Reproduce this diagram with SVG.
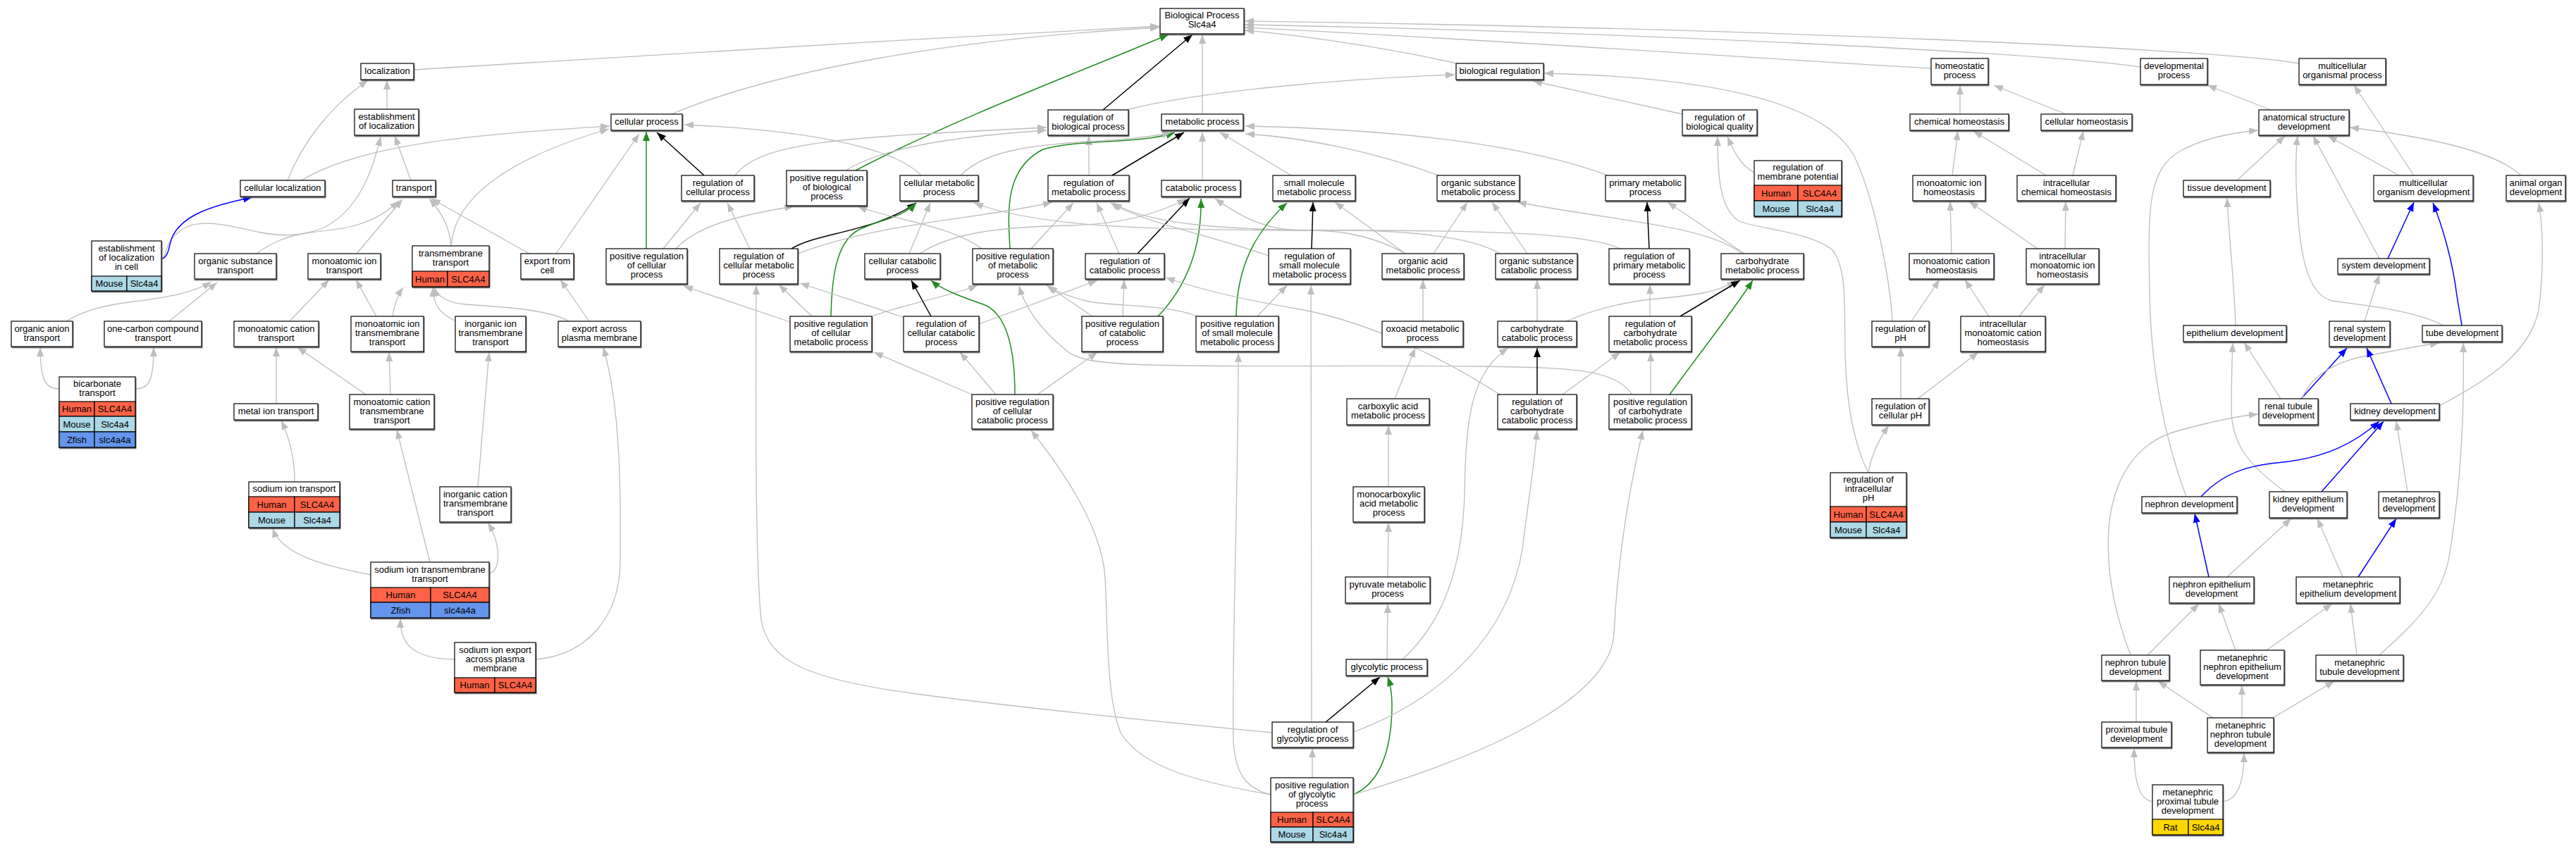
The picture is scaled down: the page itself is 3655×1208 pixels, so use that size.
<svg xmlns="http://www.w3.org/2000/svg" width="3655" height="1208" viewBox="0 0 3655 1208">
<defs>
<filter id="sh" x="-5%" y="-5%" width="115%" height="125%"><feDropShadow dx="0.8" dy="1.5" stdDeviation="0" flood-color="#555"/></filter>
<marker id="ag" markerUnits="userSpaceOnUse" markerWidth="14" markerHeight="11" refX="13" refY="5" orient="auto"><path d="M0,0 L13,5 L0,10 z" fill="#bebebe"/></marker>
<marker id="ak" markerUnits="userSpaceOnUse" markerWidth="14" markerHeight="11" refX="13" refY="5" orient="auto"><path d="M0,0 L13,5 L0,10 z" fill="#000"/></marker>
<marker id="agr" markerUnits="userSpaceOnUse" markerWidth="14" markerHeight="11" refX="13" refY="5" orient="auto"><path d="M0,0 L13,5 L0,10 z" fill="#228b22"/></marker>
<marker id="ab" markerUnits="userSpaceOnUse" markerWidth="14" markerHeight="11" refX="13" refY="5" orient="auto"><path d="M0,0 L13,5 L0,10 z" fill="#0000ff"/></marker>
</defs>
<style>
.node rect{fill:#fff;stroke:#000;stroke-width:1.2}
.node rect.o{filter:url(#sh)}
.node rect.hu{fill:#ff6347}
.node rect.mo{fill:#add8e6}
.node rect.zf{fill:#6495ed}
.node rect.ra{fill:#ffd700}
text{font-family:"Liberation Sans",Arial,sans-serif;font-size:13px;text-anchor:middle;fill:#000}
.edges path{fill:none;stroke:#bebebe;stroke-width:1.3;marker-end:url(#ag)}
.edges path.k{stroke:#000;stroke-width:1.5;marker-end:url(#ak)}
.edges path.g{stroke:#228b22;stroke-width:1.5;marker-end:url(#agr)}
.edges path.b{stroke:#0000ff;stroke-width:1.5;marker-end:url(#ab)}
</style>
<rect width="3655" height="1208" fill="#fff"/>
<g id="edges" class="edges">
<path d="M587,99 C800,85 1300,55 1645,37"/>
<path d="M953,162 C1100,100 1350,55 1645,39"/>
<path d="M1706,162 L1706,49"/>
<path d="M2066,90 C1980,70 1850,50 1766,43"/>
<path d="M2740,97 C2600,90 2100,55 1766,39"/>
<path d="M3037,95 C2900,75 2300,45 1766,35"/>
<path d="M3262,90 C3150,70 2500,40 1766,30"/>
<path class="k" d="M1565,156 L1692,49"/>
<path class="g" d="M1214,242 C1350,170 1550,95 1658,49"/>
<path d="M408,256 C430,200 470,150 522,114"/>
<path d="M549,155 L549,114"/>
<path d="M428,256 C520,200 700,190 865,179"/>
<path d="M583,256 L560,193"/>
<path d="M232,367 C238,345 245,330 270,320 C300,312 330,322 370,330 C400,336 425,335 455,325 C500,305 525,260 540,194"/>
<path d="M364,360 C385,345 405,335 440,330 C490,325 530,320 566,285"/>
<path class="b" d="M230,367 C240,365 240,345 245,335 C260,305 300,292 358,280"/>
<path d="M506,360 L571,283"/>
<path d="M640,349 C638,320 625,300 609,282"/>
<path d="M640,349 C645,280 720,225 864,183"/>
<path d="M751,360 L612,282"/>
<path d="M789,360 L907,190"/>
<path class="g" d="M917,353 L917,187"/>
<path class="k" d="M999,249 L932,188"/>
<path d="M1307,249 C1270,210 1150,185 971,177"/>
<path d="M1043,249 C1080,200 1200,195 1485,181"/>
<path d="M1200,242 C1260,205 1380,192 1485,185"/>
<path d="M1545,249 L1545,193"/>
<path d="M1598,156 C1700,130 1900,112 2064,106"/>
<path class="k" d="M1578,249 L1680,188"/>
<path class="g" d="M1433,353 C1430,300 1425,240 1480,212 C1530,197 1620,205 1667,188"/>
<path d="M1363,249 C1400,210 1480,205 1560,200 C1610,197 1640,193 1662,188"/>
<path d="M1706,256 L1706,188"/>
<path d="M1832,249 L1731,188"/>
<path d="M2041,249 C1950,215 1850,195 1767,190"/>
<path d="M2281,249 C2150,200 1950,183 1767,179"/>
<path class="k" d="M1614,360 L1688,281"/>
<path class="g" d="M1643,449 C1690,400 1705,340 1704,282"/>
<path d="M1305,360 C1350,330 1420,322 1520,320 C1600,318 1650,300 1683,282"/>
<path d="M2128,360 C2080,330 1950,325 1850,327 C1790,328 1750,300 1724,282"/>
<path class="k" d="M1123,353 C1160,330 1240,330 1300,288"/>
<path class="g" d="M1179,449 C1180,400 1185,345 1217,327 C1245,312 1280,310 1300,288"/>
<path d="M1290,360 L1320,288"/>
<path d="M1994,360 C1930,325 1880,327 1820,327 C1650,325 1480,325 1382,288"/>
<path d="M941,353 L994,288"/>
<path d="M1064,353 L1032,288"/>
<path d="M959,353 C990,320 1050,305 1126,293"/>
<path d="M1393,353 C1350,320 1260,310 1217,293"/>
<path d="M1132,360 C1250,315 1400,310 1493,287"/>
<path d="M1463,353 L1523,288"/>
<path d="M1588,360 L1556,288"/>
<path d="M1800,363 C1720,335 1620,315 1576,288"/>
<path d="M2299,353 C2250,330 2100,327 1900,327 C1750,327 1630,320 1579,288"/>
<path class="k" d="M1861,353 L1863,287"/>
<path class="g" d="M1754,449 C1755,380 1780,330 1826,288"/>
<path d="M1994,360 L1894,287"/>
<path d="M2034,360 L2082,287"/>
<path d="M2167,360 L2117,287"/>
<path d="M2472,360 C2420,320 2300,315 2153,287"/>
<path d="M2475,360 L2366,287"/>
<path class="k" d="M2340,353 L2337,287"/>
<path d="M1593,449 L1595,397"/>
<path d="M1389,460 L1557,398"/>
<path d="M2128,560 C2050,510 1950,460 1850,440 C1760,425 1700,410 1654,394"/>
<path d="M1237,449 C1290,430 1350,420 1387,405"/>
<path d="M1550,449 L1485,405"/>
<path d="M1698,449 C1660,432 1580,435 1545,428 C1520,422 1500,415 1487,406"/>
<path d="M2316,560 C2290,525 2240,522 2100,520 C1900,518 1700,522 1604,517 C1550,514 1525,510 1510,495 C1480,470 1455,440 1446,406"/>
<path d="M1121,457 L970,406"/>
<path d="M1152,449 L1105,404"/>
<path d="M1281,450 L1135,402"/>
<path d="M1805,1040 C1650,1025 1450,1005 1300,985 C1150,965 1090,940 1080,880 C1072,800 1072,600 1073,405"/>
<path class="k" d="M1321,449 L1293,398"/>
<path class="g" d="M1440,560 C1440,500 1430,445 1395,432 C1360,420 1335,410 1321,398"/>
<path d="M1803,1128 C1700,1110 1620,1090 1590,1040 C1570,990 1572,900 1568,820 C1564,750 1510,670 1463,611"/>
<path d="M1803,1128 C1770,1120 1752,1100 1750,1050 C1748,900 1757,700 1757,501"/>
<path d="M1379,560 L1240,500"/>
<path d="M1413,560 L1362,500"/>
<path d="M1472,560 L1557,500"/>
<path d="M1784,449 L1826,405"/>
<path d="M1861,1025 L1860,405"/>
<path d="M2019,456 L2019,397"/>
<path d="M1979,566 L2008,494"/>
<path d="M1970,691 L1970,604"/>
<path d="M1969,819 L1970,742"/>
<path d="M1968,936 L1969,857"/>
<path class="k" d="M1881,1025 L1958,961"/>
<path class="g" d="M1922,1127 C1960,1110 1975,1060 1975,1000 C1975,980 1972,970 1969,961"/>
<path d="M1862,1104 L1862,1062"/>
<path d="M1990,936 C2040,890 2075,820 2078,700 C2080,600 2085,530 2140,494"/>
<path d="M1921,1039 C2050,990 2140,900 2160,780 C2170,700 2178,650 2181,611"/>
<path d="M1920,1128 C2150,1060 2285,980 2290,900 C2295,800 2310,700 2331,611"/>
<path d="M2181,456 L2181,397"/>
<path d="M2222,456 C2260,440 2300,430 2340,425 C2400,420 2440,415 2463,398"/>
<path class="k" d="M2181,560 L2181,494"/>
<path d="M2217,560 L2299,500"/>
<path d="M2342,560 L2342,500"/>
<path class="g" d="M2369,560 C2420,490 2460,440 2487,398"/>
<path class="k" d="M2384,449 L2469,398"/>
<path d="M2341,449 L2341,404"/>
<path d="M2387,162 L2175,115"/>
<path d="M2685,456 C2682,400 2660,280 2630,220 C2590,150 2450,110 2191,104"/>
<path d="M2651,671 C2640,650 2620,600 2618,500 C2617,430 2620,380 2600,355 C2570,330 2500,325 2470,315 C2440,300 2437,250 2437,194"/>
<path d="M2489,245 C2470,235 2460,215 2451,194"/>
<path d="M2781,162 L2781,121"/>
<path d="M2931,162 L2829,121"/>
<path d="M2770,249 L2778,186"/>
<path d="M2903,249 L2800,186"/>
<path d="M2941,249 L2956,186"/>
<path d="M2769,360 L2767,286"/>
<path d="M2891,353 L2794,286"/>
<path d="M2930,353 L2931,286"/>
<path d="M2712,456 L2752,397"/>
<path d="M2822,449 L2788,397"/>
<path d="M2865,449 L2901,404"/>
<path d="M2697,566 L2697,493"/>
<path d="M2721,566 L2807,500"/>
<path d="M2651,671 C2655,645 2665,625 2680,604"/>
<path d="M3222,156 L3132,121"/>
<path d="M3425,249 L3340,121"/>
<path d="M3404,249 L3303,193"/>
<path d="M3174,256 L3242,193"/>
<path d="M3577,249 C3540,215 3450,195 3334,181"/>
<path d="M3102,705 C3070,620 3052,520 3050,420 C3048,300 3045,240 3096,213 C3130,195 3170,188 3204,185"/>
<path d="M3376,367 L3282,193"/>
<path d="M3467,462 C3420,438 3340,432 3309,427 C3280,420 3265,380 3260,300 C3256,240 3258,210 3260,193"/>
<path class="b" d="M3388,367 L3425,287"/>
<path class="b" d="M3493,462 L3486,420 C3480,370 3465,320 3452,288"/>
<path d="M3172,462 C3170,400 3162,330 3160,281"/>
<path d="M3461,576 C3530,540 3590,500 3602,440 C3610,380 3608,320 3602,288"/>
<path d="M3355,456 L3376,390"/>
<path d="M3236,566 L3184,486"/>
<path d="M3242,698 C3190,660 3166,630 3166,580 C3166,540 3167,510 3168,487"/>
<path class="b" d="M3265,566 L3330,494"/>
<path d="M3266,566 C3280,530 3320,510 3370,503 C3410,495 3440,490 3461,487"/>
<path class="b" d="M3393,573 L3358,494"/>
<path d="M3023,930 C3000,870 2988,810 2992,750 C2998,680 3030,625 3096,610 C3140,598 3180,590 3204,588"/>
<path class="b" d="M3123,705 C3160,665 3200,660 3248,655 C3300,648 3340,630 3376,598"/>
<path class="b" d="M3294,698 L3382,598"/>
<path d="M3416,698 L3400,598"/>
<path class="b" d="M3134,819 L3114,729"/>
<path d="M3160,819 L3251,736"/>
<path d="M3324,819 L3288,736"/>
<path class="b" d="M3346,819 L3400,736"/>
<path d="M3376,930 C3420,890 3465,850 3475,790 C3490,700 3497,600 3495,487"/>
<path d="M3047,930 L3120,857"/>
<path d="M3172,923 L3148,857"/>
<path d="M3216,923 L3309,857"/>
<path d="M3344,930 L3335,857"/>
<path d="M3031,1025 L3031,967"/>
<path d="M3140,1019 L3062,967"/>
<path d="M3181,1019 L3181,973"/>
<path d="M3225,1019 L3312,967"/>
<path d="M3054,1138 C3035,1135 3028,1110 3028,1062"/>
<path d="M3154,1138 C3175,1135 3184,1110 3184,1069"/>
<path d="M94,456 C120,440 150,433 190,428 C240,422 275,415 300,400"/>
<path d="M240,456 L308,401"/>
<path d="M84,552 C65,552 57,540 57,493"/>
<path d="M192,552 C212,552 218,540 218,493"/>
<path d="M411,456 L467,397"/>
<path d="M534,449 L505,397"/>
<path d="M557,449 C560,430 565,418 572,408"/>
<path d="M645,455 C625,445 615,435 614,408"/>
<path d="M807,456 C780,440 720,436 660,432 C635,430 620,420 616,408"/>
<path d="M836,456 L795,397"/>
<path d="M392,573 L392,493"/>
<path d="M519,560 L422,493"/>
<path d="M554,560 L552,500"/>
<path d="M418,684 C418,650 410,620 399,597"/>
<path d="M678,691 L694,500"/>
<path d="M526,816 C470,805 400,790 387,750"/>
<path d="M610,798 L563,610"/>
<path d="M694,814 C712,810 710,770 692,742"/>
<path d="M760,936 C830,930 878,880 880,800 C882,650 875,560 856,493"/>
<path d="M645,936 C580,935 568,910 568,878"/>
</g>
<g id="n_bp" class="node"><rect class="o" x="1646" y="12" width="119" height="36"/><text x="1705.5" y="26">Biological Process</text><text x="1705.5" y="39">Slc4a4</text></g>
<g id="n_localization" class="node"><rect class="o" x="512" y="90" width="75" height="23"/><text x="549.5" y="104.5">localization</text></g>
<g id="n_biological_regulation" class="node"><rect class="o" x="2066" y="90" width="124" height="23"/><text x="2128" y="104.5">biological regulation</text></g>
<g id="n_homeostatic_process" class="node"><rect class="o" x="2740" y="83" width="81" height="37"/><text x="2780.5" y="98">homeostatic</text><text x="2780.5" y="111">process</text></g>
<g id="n_developmental_process" class="node"><rect class="o" x="3037" y="83" width="95" height="37"/><text x="3084.5" y="98">developmental</text><text x="3084.5" y="111">process</text></g>
<g id="n_multicellular_organismal_process" class="node"><rect class="o" x="3262" y="83" width="123" height="37"/><text x="3323.5" y="98">multicellular</text><text x="3323.5" y="111">organismal process</text></g>
<g id="n_establishment_of_localization" class="node"><rect class="o" x="503" y="155" width="91" height="37"/><text x="548.5" y="170">establishment</text><text x="548.5" y="183">of localization</text></g>
<g id="n_cellular_process" class="node"><rect class="o" x="867" y="162" width="101" height="23"/><text x="917.5" y="176.5">cellular process</text></g>
<g id="n_regulation_of_biological_process" class="node"><rect class="o" x="1487" y="156" width="114" height="36"/><text x="1544" y="170.5">regulation of</text><text x="1544" y="183.5">biological process</text></g>
<g id="n_metabolic_process" class="node"><rect class="o" x="1648" y="162" width="116" height="23"/><text x="1706" y="176.5">metabolic process</text></g>
<g id="n_regulation_of_biological_quality" class="node"><rect class="o" x="2387" y="156" width="106" height="36"/><text x="2440" y="170.5">regulation of</text><text x="2440" y="183.5">biological quality</text></g>
<g id="n_chemical_homeostasis" class="node"><rect class="o" x="2710" y="162" width="140" height="23"/><text x="2780" y="176.5">chemical homeostasis</text></g>
<g id="n_cellular_homeostasis" class="node"><rect class="o" x="2896" y="162" width="129" height="23"/><text x="2960.5" y="176.5">cellular homeostasis</text></g>
<g id="n_anatomical_structure_development" class="node"><rect class="o" x="3205" y="156" width="128" height="36"/><text x="3269" y="170.5">anatomical structure</text><text x="3269" y="183.5">development</text></g>
<g id="n_regulation_of_membrane_potential" class="node"><rect class="o" x="2489" y="228" width="124" height="79"/><text x="2551" y="242">regulation of</text><text x="2551" y="255">membrane potential</text><rect class="hu" x="2489" y="263" width="62" height="22"/><rect class="hu" x="2551" y="263" width="62" height="22"/><rect class="mo" x="2489" y="285" width="62" height="22"/><rect class="mo" x="2551" y="285" width="62" height="22"/><text x="2520" y="278.5">Human</text><text x="2582" y="278.5">SLC4A4</text><text x="2520" y="300.5">Mouse</text><text x="2582" y="300.5">Slc4a4</text></g>
<g id="n_cellular_localization" class="node"><rect class="o" x="341" y="256" width="120" height="23"/><text x="401" y="270.5">cellular localization</text></g>
<g id="n_transport" class="node"><rect class="o" x="557" y="256" width="61" height="23"/><text x="587.5" y="270.5">transport</text></g>
<g id="n_regulation_of_cellular_process" class="node"><rect class="o" x="967" y="249" width="103" height="36"/><text x="1018.5" y="263.5">regulation of</text><text x="1018.5" y="276.5">cellular process</text></g>
<g id="n_positive_regulation_of_biological_process" class="node"><rect class="o" x="1116" y="242" width="114" height="50"/><text x="1173" y="257">positive regulation</text><text x="1173" y="270">of biological</text><text x="1173" y="283">process</text></g>
<g id="n_cellular_metabolic_process" class="node"><rect class="o" x="1277" y="249" width="111" height="36"/><text x="1332.5" y="263.5">cellular metabolic</text><text x="1332.5" y="276.5">process</text></g>
<g id="n_regulation_of_metabolic_process" class="node"><rect class="o" x="1487" y="249" width="115" height="36"/><text x="1544.5" y="263.5">regulation of</text><text x="1544.5" y="276.5">metabolic process</text></g>
<g id="n_catabolic_process" class="node"><rect class="o" x="1648" y="256" width="112" height="23"/><text x="1704" y="270.5">catabolic process</text></g>
<g id="n_small_molecule_metabolic_process" class="node"><rect class="o" x="1806" y="249" width="117" height="36"/><text x="1864.5" y="263.5">small molecule</text><text x="1864.5" y="276.5">metabolic process</text></g>
<g id="n_organic_substance_metabolic_process" class="node"><rect class="o" x="2039" y="249" width="117" height="36"/><text x="2097.5" y="263.5">organic substance</text><text x="2097.5" y="276.5">metabolic process</text></g>
<g id="n_primary_metabolic_process" class="node"><rect class="o" x="2278" y="249" width="113" height="36"/><text x="2334.5" y="263.5">primary metabolic</text><text x="2334.5" y="276.5">process</text></g>
<g id="n_monoatomic_ion_homeostasis" class="node"><rect class="o" x="2714" y="249" width="103" height="36"/><text x="2765.5" y="263.5">monoatomic ion</text><text x="2765.5" y="276.5">homeostasis</text></g>
<g id="n_intracellular_chemical_homeostasis" class="node"><rect class="o" x="2862" y="249" width="140" height="36"/><text x="2932" y="263.5">intracellular</text><text x="2932" y="276.5">chemical homeostasis</text></g>
<g id="n_tissue_development" class="node"><rect class="o" x="3098" y="256" width="123" height="23"/><text x="3159.5" y="270.5">tissue development</text></g>
<g id="n_multicellular_organism_development" class="node"><rect class="o" x="3368" y="249" width="141" height="36"/><text x="3438.5" y="263.5">multicellular</text><text x="3438.5" y="276.5">organism development</text></g>
<g id="n_animal_organ_development" class="node"><rect class="o" x="3556" y="249" width="84" height="36"/><text x="3598" y="263.5">animal organ</text><text x="3598" y="276.5">development</text></g>
<g id="n_establishment_of_localization_in_cell" class="node"><rect class="o" x="130" y="342" width="99" height="71"/><text x="179.5" y="357">establishment</text><text x="179.5" y="370">of localization</text><text x="179.5" y="383">in cell</text><rect class="mo" x="130" y="392" width="50" height="21"/><rect class="mo" x="180" y="392" width="49" height="21"/><text x="155" y="407">Mouse</text><text x="204.5" y="407">Slc4a4</text></g>
<g id="n_organic_substance_transport" class="node"><rect class="o" x="276" y="360" width="116" height="36"/><text x="334" y="374.5">organic substance</text><text x="334" y="387.5">transport</text></g>
<g id="n_monoatomic_ion_transport" class="node"><rect class="o" x="437" y="360" width="103" height="36"/><text x="488.5" y="374.5">monoatomic ion</text><text x="488.5" y="387.5">transport</text></g>
<g id="n_transmembrane_transport" class="node"><rect class="o" x="585" y="349" width="109" height="58"/><text x="639.5" y="363.5">transmembrane</text><text x="639.5" y="376.5">transport</text><rect class="hu" x="585" y="385" width="50" height="22"/><rect class="hu" x="635" y="385" width="59" height="22"/><text x="610" y="400.5">Human</text><text x="664.5" y="400.5">SLC4A4</text></g>
<g id="n_export_from_cell" class="node"><rect class="o" x="739" y="360" width="75" height="36"/><text x="776.5" y="374.5">export from</text><text x="776.5" y="387.5">cell</text></g>
<g id="n_positive_regulation_of_cellular_process" class="node"><rect class="o" x="860" y="353" width="115" height="50"/><text x="917.5" y="368">positive regulation</text><text x="917.5" y="381">of cellular</text><text x="917.5" y="394">process</text></g>
<g id="n_regulation_of_cellular_metabolic_process" class="node"><rect class="o" x="1021" y="353" width="111" height="50"/><text x="1076.5" y="368">regulation of</text><text x="1076.5" y="381">cellular metabolic</text><text x="1076.5" y="394">process</text></g>
<g id="n_cellular_catabolic_process" class="node"><rect class="o" x="1227" y="360" width="107" height="36"/><text x="1280.5" y="374.5">cellular catabolic</text><text x="1280.5" y="387.5">process</text></g>
<g id="n_positive_regulation_of_metabolic_process" class="node"><rect class="o" x="1380" y="353" width="114" height="50"/><text x="1437" y="368">positive regulation</text><text x="1437" y="381">of metabolic</text><text x="1437" y="394">process</text></g>
<g id="n_regulation_of_catabolic_process" class="node"><rect class="o" x="1540" y="360" width="112" height="36"/><text x="1596" y="374.5">regulation of</text><text x="1596" y="387.5">catabolic process</text></g>
<g id="n_regulation_of_small_molecule_metabolic_process" class="node"><rect class="o" x="1800" y="353" width="116" height="50"/><text x="1858" y="368">regulation of</text><text x="1858" y="381">small molecule</text><text x="1858" y="394">metabolic process</text></g>
<g id="n_organic_acid_metabolic_process" class="node"><rect class="o" x="1961" y="360" width="116" height="36"/><text x="2019" y="374.5">organic acid</text><text x="2019" y="387.5">metabolic process</text></g>
<g id="n_organic_substance_catabolic_process" class="node"><rect class="o" x="2122" y="360" width="116" height="36"/><text x="2180" y="374.5">organic substance</text><text x="2180" y="387.5">catabolic process</text></g>
<g id="n_regulation_of_primary_metabolic_process" class="node"><rect class="o" x="2283" y="353" width="114" height="50"/><text x="2340" y="368">regulation of</text><text x="2340" y="381">primary metabolic</text><text x="2340" y="394">process</text></g>
<g id="n_carbohydrate_metabolic_process" class="node"><rect class="o" x="2442" y="360" width="117" height="36"/><text x="2500.5" y="374.5">carbohydrate</text><text x="2500.5" y="387.5">metabolic process</text></g>
<g id="n_monoatomic_cation_homeostasis" class="node"><rect class="o" x="2709" y="360" width="120" height="36"/><text x="2769" y="374.5">monoatomic cation</text><text x="2769" y="387.5">homeostasis</text></g>
<g id="n_intracellular_monoatomic_ion_homeostasis" class="node"><rect class="o" x="2875" y="353" width="103" height="50"/><text x="2926.5" y="368">intracellular</text><text x="2926.5" y="381">monoatomic ion</text><text x="2926.5" y="394">homeostasis</text></g>
<g id="n_system_development" class="node"><rect class="o" x="3317" y="367" width="130" height="22"/><text x="3382" y="381">system development</text></g>
<g id="n_organic_anion_transport" class="node"><rect class="o" x="16" y="456" width="87" height="36"/><text x="59.5" y="470.5">organic anion</text><text x="59.5" y="483.5">transport</text></g>
<g id="n_one_carbon_compound_transport" class="node"><rect class="o" x="148" y="456" width="138" height="36"/><text x="217" y="470.5">one-carbon compound</text><text x="217" y="483.5">transport</text></g>
<g id="n_monoatomic_cation_transport" class="node"><rect class="o" x="332" y="456" width="120" height="36"/><text x="392" y="470.5">monoatomic cation</text><text x="392" y="483.5">transport</text></g>
<g id="n_monoatomic_ion_transmembrane_transport" class="node"><rect class="o" x="498" y="449" width="103" height="50"/><text x="549.5" y="464">monoatomic ion</text><text x="549.5" y="477">transmembrane</text><text x="549.5" y="490">transport</text></g>
<g id="n_inorganic_ion_transmembrane_transport" class="node"><rect class="o" x="646" y="449" width="100" height="50"/><text x="696" y="464">inorganic ion</text><text x="696" y="477">transmembrane</text><text x="696" y="490">transport</text></g>
<g id="n_export_across_plasma_membrane" class="node"><rect class="o" x="792" y="456" width="117" height="36"/><text x="850.5" y="470.5">export across</text><text x="850.5" y="483.5">plasma membrane</text></g>
<g id="n_positive_regulation_of_cellular_metabolic_process" class="node"><rect class="o" x="1121" y="449" width="116" height="50"/><text x="1179" y="464">positive regulation</text><text x="1179" y="477">of cellular</text><text x="1179" y="490">metabolic process</text></g>
<g id="n_regulation_of_cellular_catabolic_process" class="node"><rect class="o" x="1282" y="449" width="107" height="50"/><text x="1335.5" y="464">regulation of</text><text x="1335.5" y="477">cellular catabolic</text><text x="1335.5" y="490">process</text></g>
<g id="n_positive_regulation_of_catabolic_process" class="node"><rect class="o" x="1535" y="449" width="115" height="50"/><text x="1592.5" y="464">positive regulation</text><text x="1592.5" y="477">of catabolic</text><text x="1592.5" y="490">process</text></g>
<g id="n_positive_regulation_of_small_molecule_metabolic_process" class="node"><rect class="o" x="1697" y="449" width="117" height="50"/><text x="1755.5" y="464">positive regulation</text><text x="1755.5" y="477">of small molecule</text><text x="1755.5" y="490">metabolic process</text></g>
<g id="n_oxoacid_metabolic_process" class="node"><rect class="o" x="1961" y="456" width="115" height="36"/><text x="2018.5" y="470.5">oxoacid metabolic</text><text x="2018.5" y="483.5">process</text></g>
<g id="n_carbohydrate_catabolic_process" class="node"><rect class="o" x="2125" y="456" width="112" height="36"/><text x="2181" y="470.5">carbohydrate</text><text x="2181" y="483.5">catabolic process</text></g>
<g id="n_regulation_of_carbohydrate_metabolic_process" class="node"><rect class="o" x="2283" y="449" width="117" height="50"/><text x="2341.5" y="464">regulation of</text><text x="2341.5" y="477">carbohydrate</text><text x="2341.5" y="490">metabolic process</text></g>
<g id="n_regulation_of_pH" class="node"><rect class="o" x="2656" y="456" width="81" height="36"/><text x="2696.5" y="470.5">regulation of</text><text x="2696.5" y="483.5">pH</text></g>
<g id="n_intracellular_monoatomic_cation_homeostasis" class="node"><rect class="o" x="2782" y="449" width="120" height="50"/><text x="2842" y="464">intracellular</text><text x="2842" y="477">monoatomic cation</text><text x="2842" y="490">homeostasis</text></g>
<g id="n_epithelium_development" class="node"><rect class="o" x="3098" y="462" width="146" height="23"/><text x="3171" y="476.5">epithelium development</text></g>
<g id="n_renal_system_development" class="node"><rect class="o" x="3305" y="456" width="86" height="36"/><text x="3348" y="470.5">renal system</text><text x="3348" y="483.5">development</text></g>
<g id="n_tube_development" class="node"><rect class="o" x="3437" y="462" width="113" height="23"/><text x="3493.5" y="476.5">tube development</text></g>
<g id="n_bicarbonate_transport" class="node"><rect class="o" x="84" y="535" width="108" height="100"/><text x="138" y="549">bicarbonate</text><text x="138" y="562">transport</text><rect class="hu" x="84" y="570" width="50" height="21"/><rect class="hu" x="134" y="570" width="58" height="21"/><rect class="mo" x="84" y="591" width="50" height="22"/><rect class="mo" x="134" y="591" width="58" height="22"/><rect class="zf" x="84" y="613" width="50" height="22"/><rect class="zf" x="134" y="613" width="58" height="22"/><text x="109" y="585">Human</text><text x="163" y="585">SLC4A4</text><text x="109" y="606.5">Mouse</text><text x="163" y="606.5">Slc4a4</text><text x="109" y="628.5">Zfish</text><text x="163" y="628.5">slc4a4a</text></g>
<g id="n_metal_ion_transport" class="node"><rect class="o" x="332" y="573" width="119" height="23"/><text x="391.5" y="587.5">metal ion transport</text></g>
<g id="n_monoatomic_cation_transmembrane_transport" class="node"><rect class="o" x="496" y="560" width="120" height="49"/><text x="556" y="574.5">monoatomic cation</text><text x="556" y="587.5">transmembrane</text><text x="556" y="600.5">transport</text></g>
<g id="n_positive_regulation_of_cellular_catabolic_process" class="node"><rect class="o" x="1379" y="560" width="115" height="49"/><text x="1436.5" y="574.5">positive regulation</text><text x="1436.5" y="587.5">of cellular</text><text x="1436.5" y="600.5">catabolic process</text></g>
<g id="n_carboxylic_acid_metabolic_process" class="node"><rect class="o" x="1911" y="566" width="117" height="37"/><text x="1969.5" y="581">carboxylic acid</text><text x="1969.5" y="594">metabolic process</text></g>
<g id="n_regulation_of_carbohydrate_catabolic_process" class="node"><rect class="o" x="2125" y="560" width="112" height="49"/><text x="2181" y="574.5">regulation of</text><text x="2181" y="587.5">carbohydrate</text><text x="2181" y="600.5">catabolic process</text></g>
<g id="n_positive_regulation_of_carbohydrate_metabolic_process" class="node"><rect class="o" x="2283" y="560" width="117" height="49"/><text x="2341.5" y="574.5">positive regulation</text><text x="2341.5" y="587.5">of carbohydrate</text><text x="2341.5" y="600.5">metabolic process</text></g>
<g id="n_regulation_of_cellular_pH" class="node"><rect class="o" x="2656" y="566" width="81" height="37"/><text x="2696.5" y="581">regulation of</text><text x="2696.5" y="594">cellular pH</text></g>
<g id="n_renal_tubule_development" class="node"><rect class="o" x="3205" y="566" width="84" height="37"/><text x="3247" y="581">renal tubule</text><text x="3247" y="594">development</text></g>
<g id="n_kidney_development" class="node"><rect class="o" x="3335" y="573" width="126" height="23"/><text x="3398" y="587.5">kidney development</text></g>
<g id="n_sodium_ion_transport" class="node"><rect class="o" x="353" y="684" width="129" height="65"/><text x="417.5" y="697.5">sodium ion transport</text><rect class="hu" x="353" y="705" width="65" height="22"/><rect class="hu" x="418" y="705" width="64" height="22"/><rect class="mo" x="353" y="727" width="65" height="22"/><rect class="mo" x="418" y="727" width="64" height="22"/><text x="385.5" y="720.5">Human</text><text x="450" y="720.5">SLC4A4</text><text x="385.5" y="742.5">Mouse</text><text x="450" y="742.5">Slc4a4</text></g>
<g id="n_inorganic_cation_transmembrane_transport" class="node"><rect class="o" x="624" y="691" width="101" height="50"/><text x="674.5" y="706">inorganic cation</text><text x="674.5" y="719">transmembrane</text><text x="674.5" y="732">transport</text></g>
<g id="n_monocarboxylic_acid_metabolic_process" class="node"><rect class="o" x="1920" y="691" width="101" height="50"/><text x="1970.5" y="706">monocarboxylic</text><text x="1970.5" y="719">acid metabolic</text><text x="1970.5" y="732">process</text></g>
<g id="n_regulation_of_intracellular_pH" class="node"><rect class="o" x="2597" y="671" width="108" height="92"/><text x="2651" y="685">regulation of</text><text x="2651" y="698">intracellular</text><text x="2651" y="711">pH</text><rect class="hu" x="2597" y="719" width="51" height="22"/><rect class="hu" x="2648" y="719" width="57" height="22"/><rect class="mo" x="2597" y="741" width="51" height="22"/><rect class="mo" x="2648" y="741" width="57" height="22"/><text x="2622.5" y="734.5">Human</text><text x="2676.5" y="734.5">SLC4A4</text><text x="2622.5" y="756.5">Mouse</text><text x="2676.5" y="756.5">Slc4a4</text></g>
<g id="n_nephron_development" class="node"><rect class="o" x="3039" y="705" width="135" height="23"/><text x="3106.5" y="719.5">nephron development</text></g>
<g id="n_kidney_epithelium_development" class="node"><rect class="o" x="3220" y="698" width="110" height="37"/><text x="3275" y="713">kidney epithelium</text><text x="3275" y="726">development</text></g>
<g id="n_metanephros_development" class="node"><rect class="o" x="3375" y="698" width="86" height="37"/><text x="3418" y="713">metanephros</text><text x="3418" y="726">development</text></g>
<g id="n_sodium_ion_transmembrane_transport" class="node"><rect class="o" x="526" y="798" width="168" height="79"/><text x="610" y="812.5">sodium ion transmembrane</text><text x="610" y="825.5">transport</text><rect class="hu" x="526" y="834" width="85" height="21"/><rect class="hu" x="611" y="834" width="83" height="21"/><rect class="zf" x="526" y="855" width="85" height="22"/><rect class="zf" x="611" y="855" width="83" height="22"/><text x="568.5" y="849">Human</text><text x="652.5" y="849">SLC4A4</text><text x="568.5" y="870.5">Zfish</text><text x="652.5" y="870.5">slc4a4a</text></g>
<g id="n_pyruvate_metabolic_process" class="node"><rect class="o" x="1909" y="819" width="120" height="37"/><text x="1969" y="834">pyruvate metabolic</text><text x="1969" y="847">process</text></g>
<g id="n_nephron_epithelium_development" class="node"><rect class="o" x="3078" y="819" width="120" height="37"/><text x="3138" y="834">nephron epithelium</text><text x="3138" y="847">development</text></g>
<g id="n_metanephric_epithelium_development" class="node"><rect class="o" x="3258" y="819" width="147" height="37"/><text x="3331.5" y="834">metanephric</text><text x="3331.5" y="847">epithelium development</text></g>
<g id="n_sodium_ion_export_across_plasma_membrane" class="node"><rect class="o" x="645" y="912" width="115" height="71"/><text x="702.5" y="927">sodium ion export</text><text x="702.5" y="940">across plasma</text><text x="702.5" y="953">membrane</text><rect class="hu" x="645" y="962" width="57" height="21"/><rect class="hu" x="702" y="962" width="58" height="21"/><text x="673.5" y="977">Human</text><text x="731" y="977">SLC4A4</text></g>
<g id="n_nephron_tubule_development" class="node"><rect class="o" x="2982" y="930" width="96" height="36"/><text x="3030" y="944.5">nephron tubule</text><text x="3030" y="957.5">development</text></g>
<g id="n_metanephric_nephron_epithelium_development" class="node"><rect class="o" x="3122" y="923" width="119" height="49"/><text x="3181.5" y="937.5">metanephric</text><text x="3181.5" y="950.5">nephron epithelium</text><text x="3181.5" y="963.5">development</text></g>
<g id="n_metanephric_tubule_development" class="node"><rect class="o" x="3286" y="930" width="124" height="36"/><text x="3348" y="944.5">metanephric</text><text x="3348" y="957.5">tubule development</text></g>
<g id="n_glycolytic_process" class="node"><rect class="o" x="1910" y="936" width="115" height="23"/><text x="1967.5" y="950.5">glycolytic process</text></g>
<g id="n_regulation_of_glycolytic_process" class="node"><rect class="o" x="1805" y="1025" width="115" height="36"/><text x="1862.5" y="1039.5">regulation of</text><text x="1862.5" y="1052.5">glycolytic process</text></g>
<g id="n_proximal_tubule_development" class="node"><rect class="o" x="2982" y="1025" width="99" height="36"/><text x="3031.5" y="1039.5">proximal tubule</text><text x="3031.5" y="1052.5">development</text></g>
<g id="n_metanephric_nephron_tubule_development" class="node"><rect class="o" x="3132" y="1019" width="94" height="49"/><text x="3179" y="1033.5">metanephric</text><text x="3179" y="1046.5">nephron tubule</text><text x="3179" y="1059.5">development</text></g>
<g id="n_positive_regulation_of_glycolytic_process" class="node"><rect class="o" x="1803" y="1104" width="117" height="91"/><text x="1861.5" y="1118.5">positive regulation</text><text x="1861.5" y="1131.5">of glycolytic</text><text x="1861.5" y="1144.5">process</text><rect class="hu" x="1803" y="1153" width="60" height="21"/><rect class="hu" x="1863" y="1153" width="57" height="21"/><rect class="mo" x="1803" y="1174" width="60" height="21"/><rect class="mo" x="1863" y="1174" width="57" height="21"/><text x="1833" y="1168">Human</text><text x="1891.5" y="1168">SLC4A4</text><text x="1833" y="1189">Mouse</text><text x="1891.5" y="1189">Slc4a4</text></g>
<g id="n_metanephric_proximal_tubule_development" class="node"><rect class="o" x="3054" y="1114" width="100" height="71"/><text x="3104" y="1128.5">metanephric</text><text x="3104" y="1141.5">proximal tubule</text><text x="3104" y="1154.5">development</text><rect class="ra" x="3054" y="1163" width="51" height="22"/><rect class="ra" x="3105" y="1163" width="49" height="22"/><text x="3079.5" y="1178.5">Rat</text><text x="3129.5" y="1178.5">Slc4a4</text></g>
</svg>
